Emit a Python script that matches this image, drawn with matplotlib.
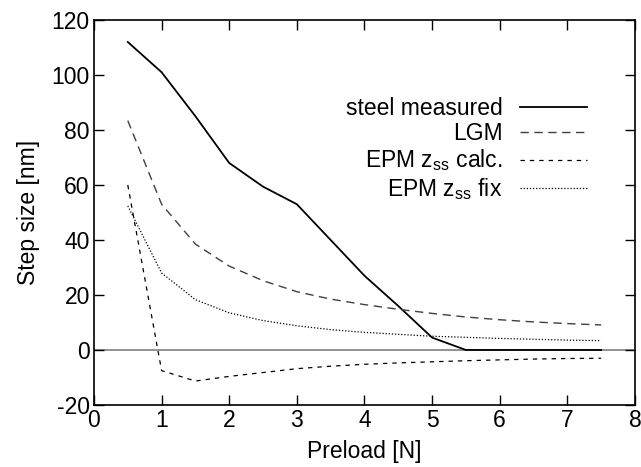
import matplotlib
matplotlib.use("Agg")
import matplotlib.pyplot as plt

plt.rcParams["font.family"] = ["Liberation Sans", "DejaVu Sans"]
plt.rcParams["mathtext.fontset"] = "custom"
plt.rcParams["mathtext.rm"] = "Liberation Sans"
plt.rcParams["mathtext.it"] = "Liberation Sans:italic"
plt.rcParams["axes.unicode_minus"] = False

preload = [0.5, 1.0, 1.5, 2.0, 2.5, 3.0, 3.5, 4.0, 4.5, 5.0, 5.5, 6.0, 6.5, 7.0, 7.5]
steel_measured = [112, 101, 85, 68, 59.4, 53, 40, 27, 16, 4.5, 0, 0, 0, 0, 0]
lgm = [83.4, 53, 38.5, 30.5, 25.2, 21.2, 18.5, 16.5, 14.8, 13.3, 12.0, 11.0, 10.2, 9.6, 9.1]
epm_calc = [60, -7.5, -11.3, -9.6, -8.2, -6.8, -5.9, -5.2, -4.7, -4.3, -3.9, -3.6, -3.3, -3.1, -3.0]
epm_fix = [52.4, 28, 18.3, 13.5, 10.7, 8.8, 7.4, 6.4, 5.7, 5.0, 4.6, 4.2, 3.9, 3.6, 3.4]

FONT = 16.5

fig = plt.figure(figsize=(6.41, 4.67), dpi=100)
ax = fig.add_axes([0.1466, 0.1328, 0.8440, 0.8244])

ax.axhline(0, color="#808080", lw=1.2, zorder=1)
ax.plot(preload, steel_measured, color="black", lw=1.3, ls="-", label="steel measured", zorder=3)
ax.plot(preload, lgm, color="#404040", lw=1.0, ls=(0, (6, 4)), label="LGM", zorder=3)
ax.plot(preload, epm_calc, color="black", lw=0.9, ls=(0, (3.5, 4)), label=r"EPM z$_{\mathrm{ss}}$ calc.", zorder=3)
ax.plot(preload, epm_fix, color="black", lw=0.9, ls=(0, (1, 1.5)), label=r"EPM z$_{\mathrm{ss}}$ fix", zorder=3)

ax.set_xlim(0, 8)
ax.set_ylim(-20, 120)
ax.set_xticks(range(0, 9))
ax.set_yticks(range(-20, 121, 20))
ax.tick_params(direction="in", length=7.5, width=1.0, top=True, right=True,
               labelsize=FONT, pad=3)
for s in ax.spines.values():
    s.set_linewidth(1.2)

ax.set_xlabel("Preload [N]", fontsize=FONT, labelpad=6)
ax.set_ylabel("Step size [nm]", fontsize=FONT, labelpad=8)

leg = ax.legend(loc="upper right", bbox_to_anchor=(0.912, 0.80), frameon=False,
                markerfirst=False, fontsize=FONT, handlelength=2.95,
                handletextpad=0.75, labelspacing=0.1, borderaxespad=0, borderpad=0)

fig.savefig("out.png", dpi=100)
